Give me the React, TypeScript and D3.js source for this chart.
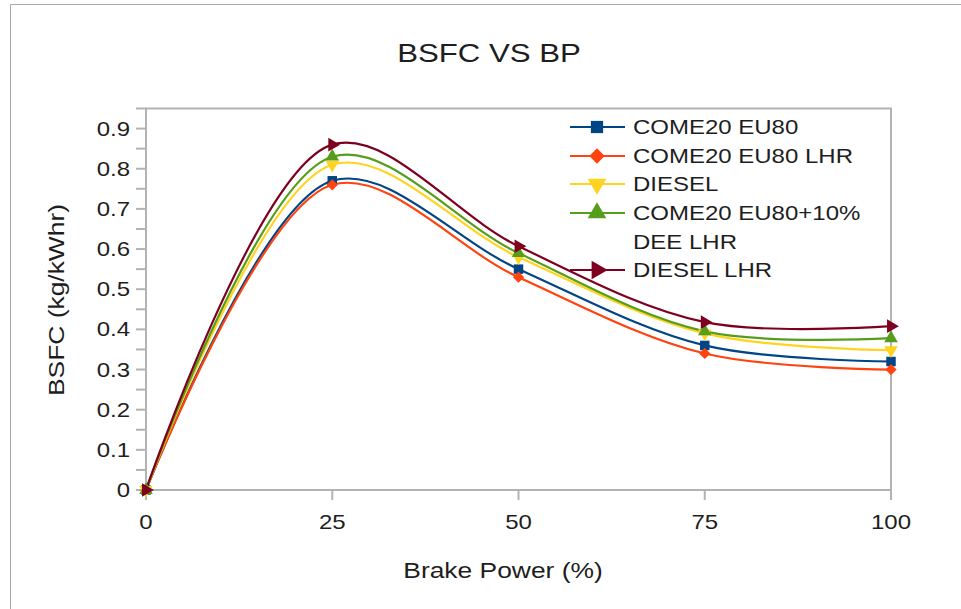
import * as d3 from 'd3';
import { useEffect, useRef } from 'react';

const brakePower = [0, 25, 50, 75, 100];
const seriesNames = ['COME20 EU80', 'COME20 EU80 LHR', 'DIESEL', 'COME20 EU80+10% DEE LHR', 'DIESEL LHR'];
const come20Eu80 = [0, 0.77, 0.55, 0.36, 0.32];
const come20Eu80Lhr = [0, 0.76, 0.53, 0.34, 0.3];
const diesel = [0, 0.81, 0.58, 0.39, 0.348];
const come20Dee = [0, 0.83, 0.59, 0.395, 0.378];
const dieselLhr = [0, 0.86, 0.607, 0.418, 0.408];
const yTicks = [0, 0.1, 0.2, 0.3, 0.4, 0.5, 0.6, 0.7, 0.8, 0.9];
const xTicks = [0, 25, 50, 75, 100];

const colors = ['#004586', '#ff420e', '#ffd320', '#579d1c', '#7e0021'];
const markers = ['square', 'diamond', 'down', 'up', 'right'];

const W = 961;
const H = 609;
const STRETCH = 1.2;

function App() {
  const svgRef = useRef<SVGSVGElement>(null);

  useEffect(() => {
    const svg = d3.select(svgRef.current);
    svg.selectAll('*').remove();

    const x = d3.scaleLinear().domain([0, 100]).range([146, 891]);
    const y = d3.scaleLinear().domain([0, 0.95]).range([490, 108.5]);
    const values = [come20Eu80, come20Eu80Lhr, diesel, come20Dee, dieselLhr];

    const text = (
      tx: number,
      ty: number,
      s: string,
      size: number,
      anchor: string,
      rotate = 0,
    ) =>
      svg
        .append('text')
        .attr('transform', `translate(${tx},${ty}) rotate(${rotate}) scale(${STRETCH},1)`)
        .attr('text-anchor', anchor)
        .attr('font-family', 'Liberation Sans, Arial, sans-serif')
        .attr('font-size', size)
        .attr('fill', '#1e1e1e')
        .text(s);

    // image frame (top and left edges)
    svg.append('path').attr('d', `M10.5,${H} V4.5 H${W}`).attr('fill', 'none').attr('stroke', '#a8a8a8');

    text(489, 62, 'BSFC VS BP', 26, 'middle');

    // plot frame
    const g = svg.append('g');
    g.append('rect')
      .attr('x', x(0))
      .attr('y', y(0.95))
      .attr('width', x(100) - x(0))
      .attr('height', y(0) - y(0.95))
      .attr('fill', 'none')
      .attr('stroke', '#b3b3b3')
      .attr('stroke-width', 2);

    const minor = d3.range(0, 20).map(i => i * 0.05);
    g.selectAll('.ytick')
      .data(minor)
      .join('line')
      .attr('x1', x(0) - 10)
      .attr('x2', x(0))
      .attr('y1', d => y(d))
      .attr('y2', d => y(d))
      .attr('stroke', '#b3b3b3')
      .attr('stroke-width', 2);
    g.selectAll('.xtick')
      .data(xTicks)
      .join('line')
      .attr('x1', d => x(d))
      .attr('x2', d => x(d))
      .attr('y1', y(0))
      .attr('y2', y(0) + 10)
      .attr('stroke', '#b3b3b3')
      .attr('stroke-width', 2);

    yTicks.forEach(t => text(130, y(t) + 7, String(t), 20, 'end'));
    xTicks.forEach(t => text(x(t), 529, String(t), 20, 'middle'));

    text(503, 578, 'Brake Power (%)', 22, 'middle');
    text(64, 300, 'BSFC (kg/kWhr)', 22, 'middle', -90);

    const symbolPath = (m: string, size: number) => {
      const sym = m === 'square' ? d3.symbolSquare : m === 'diamond' ? d3.symbolDiamond2 : d3.symbolTriangle;
      return d3.symbol(sym, size)() as string;
    };
    const rot = (m: string) => (m === 'down' ? 180 : m === 'right' ? 90 : 0);

    const line = d3
      .line<number>()
      .x((_, i) => x(brakePower[i]))
      .y(d => y(d))
      .curve(d3.curveCatmullRom.alpha(0.5));

    values.forEach((vals, si) => {
      g.append('path')
        .attr('d', line(vals))
        .attr('fill', 'none')
        .attr('stroke', colors[si])
        .attr('stroke-width', 2.2);
    });
    values.forEach((vals, si) => {
      g.selectAll(`.m${si}`)
        .data(vals)
        .join('path')
        .attr('d', symbolPath(markers[si], markers[si] === 'square' ? 90 : 80))
        .attr('transform', (d, i) => `translate(${x(brakePower[i])},${y(d)}) rotate(${rot(markers[si])})`)
        .attr('fill', colors[si]);
    });

    // legend
    const rows = [127, 156, 184, 213, 270];
    seriesNames.forEach((name, si) => {
      const ry = rows[si];
      g.append('line')
        .attr('x1', 570)
        .attr('x2', 625)
        .attr('y1', ry)
        .attr('y2', ry)
        .attr('stroke', colors[si])
        .attr('stroke-width', 2.2);
      g.append('path')
        .attr('d', symbolPath(markers[si], 150))
        .attr('transform', `translate(597,${ry}) rotate(${rot(markers[si])})`)
        .attr('fill', colors[si]);
      if (si === 3) {
        text(633, ry + 7, 'COME20 EU80+10%', 20, 'start');
        text(633, ry + 36, 'DEE LHR', 20, 'start');
      } else {
        text(633, ry + 7, name, 20, 'start');
      }
    });
  }, []);

  return (
    <svg
      ref={svgRef}
      width={W}
      height={H}
      style={{ position: 'absolute', left: 0, top: 0, background: '#fff' }}
    />
  );
}

export default App;
